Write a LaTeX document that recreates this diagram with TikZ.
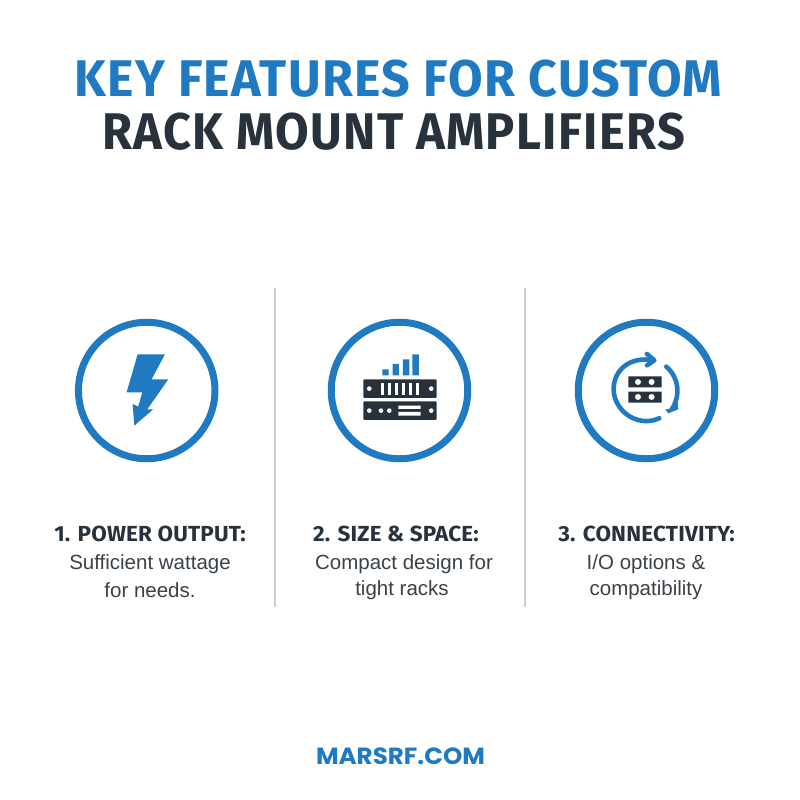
\documentclass[tikz,border=0pt]{standalone}
\usepackage{fontspec}
\setmainfont{Liberation Sans}
\newfontfamily\firaf{Fira Sans}
\newfontfamily\popf{Poppins}
\definecolor{bluea}{HTML}{1F7AC2}
\definecolor{darka}{HTML}{27323C}
\definecolor{greya}{HTML}{3A4249}
\definecolor{rulea}{HTML}{CDCFD1}
\newcommand{\lsp}[2]{\addfontfeature{LetterSpace=#1,FakeStretch=#2}}
\tikzset{
 x=0.03cm,y=-0.03cm,
 titlea/.style={font=\fontsize{44}{48}\selectfont\firaf\bfseries\lsp{2.6}{#1},anchor=center,inner sep=0},
 heada/.style={font=\fontsize{18.6}{22}\selectfont\firaf\bfseries\lsp{0.9}{1.03},text=darka,anchor=center,inner sep=0},
 bodya/.style={font=\fontsize{17.5}{22}\selectfont,text=greya,anchor=center,inner sep=0},
 ringa/.style={draw=bluea,line width=0.03cm*7,fill=white},
 dividera/.style={draw=rulea,line width=0.03cm*2},
 arca/.style={draw=bluea,line width=0.03cm*4.6,line cap=round,line join=round},
}
\begin{document}
\begin{tikzpicture}
\useasboundingbox[fill=white] (0,0) rectangle (800,800);
\node[titlea=0.972,text=bluea] (t1) at (398.5,79) {KEY FEATURES FOR CUSTOM};
\node[titlea=0.945,text=darka] (t2) at (393.5,132) {RACK MOUNT AMPLIFIERS};
\coordinate (d1a) at (274.5,288); \coordinate (d1b) at (274.5,607);
\coordinate (d2a) at (525,288); \coordinate (d2b) at (525,607);
\draw[dividera] (d1a)--(d1b);
\draw[dividera] (d2a)--(d2b);
\node[ringa,circle,minimum size=0.03cm*136.5,inner sep=0] (c1) at (146.7,390.5) {};
\node[ringa,circle,minimum size=0.03cm*136.5,inner sep=0] (c2) at (399.5,390.5) {};
\node[ringa,circle,minimum size=0.03cm*136.5,inner sep=0] (c3) at (646.5,390.5) {};
% bolt
\begin{scope}[shift={(60,310)},x=0.01cm,y=-0.01cm]
\fill[bluea] (233,133)--(315,133)--(275,208)--(325,208)--(262,298)--(280,298)--(223,347)--(218,282)--(235,290)--(247,247)--(200,247)--cycle;
\end{scope}
% server
\begin{scope}[shift={(320,310)},x=0.01cm,y=-0.01cm]
\fill[bluea] (187,178) rectangle (206,196) (218,162) rectangle (237,196) (249,148) rectangle (268,196) (277,133) rectangle (297,196);
\fill[darka,rounded corners=0.03cm] (130,208) rectangle (350,264) (130,274) rectangle (350,330);
\fill[white] (148,236) circle (7) (334,236) circle (7) (148,302) circle (7) (183,302) circle (7) (208,302) circle (7) (334,302) circle (7);
\foreach \q in {183,204,225,246,267,288}{\fill[white] (\q,219) rectangle (\q+10,254);}
\fill[white] (235,287) rectangle (302,297) (235,306) rectangle (302,317);
\end{scope}
% connectivity
\begin{scope}[shift={(565,310)},x=0.01cm,y=-0.01cm]
\fill[darka] (190,199) rectangle (290,232) (190,245) rectangle (290,278);
\fill[white] (219,216) circle (9) (260,216) circle (9) (219,261) circle (9) (260,261) circle (9);
\draw[arca] (283,325) .. controls (215,355) and (146,300) .. (146,238) .. controls (146,180) and (195,138) .. (265,151);
\draw[arca] (246,132)--(268,151)--(246,166);
\draw[arca] (304,170) .. controls (345,205) and (345,260) .. (322,296);
\fill[bluea] (301,299)--(312,297)--(322,290)--(328,272)--(338,268)--(340,298)--(310,310)--cycle;
\end{scope}
\node[heada] (h1) at (150,534) {1. POWER OUTPUT:};
\node[heada] (h2) at (396,534) {2. SIZE \& SPACE:};
\node[heada] (h3) at (646.5,534) {3. CONNECTIVITY:};
\node[bodya] (b1a) at (150,564) {Sufficient wattage};
\node[bodya] (b1b) at (150,590) {for needs.};
\node[bodya] (b2a) at (404,564) {Compact design for};
\node[bodya] (b2b) at (402,590) {tight racks};
\node[bodya] (b3a) at (646,564) {I/O options \&};
\node[bodya] (b3b) at (646,590) {compatibility};
\node[font=\fontsize{20}{24}\selectfont\popf\bfseries\addfontfeature{FakeStretch=1.05},text=bluea,inner sep=0] (foot) at (400.5,756) {MARSRF.COM};
\end{tikzpicture}
\end{document}
